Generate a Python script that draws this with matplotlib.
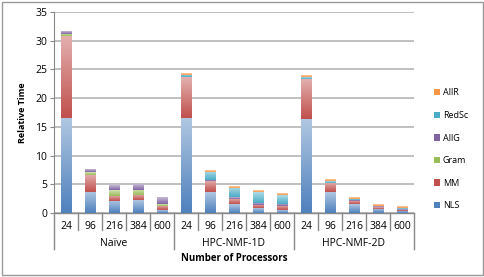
import numpy as np
import matplotlib
matplotlib.use("Agg")
import matplotlib.pyplot as plt
from matplotlib.patches import Rectangle
from matplotlib.colors import LinearSegmentedColormap, to_rgb

plt.rcParams['font.family'] = ['Open Sans', 'DejaVu Sans']

groups = ["Naïve", "HPC-NMF-1D", "HPC-NMF-2D"]
procs = ["24", "96", "216", "384", "600"]

series = ["NLS", "MM", "Gram", "AllG", "RedSc", "AllR"]
NLS   = [16.5, 3.7, 2.1, 2.2, 0.5,   16.5, 3.6, 1.5, 0.8, 0.5,   16.3, 3.6, 1.5, 0.7, 0.4]
MM    = [14.3, 3.0, 0.9, 0.9, 0.7,    7.1, 2.0, 1.0, 0.6, 0.7,    7.0, 1.6, 0.6, 0.3, 0.2]
Gram  = [0.4, 0.4, 1.0, 0.9, 0.3,     0.0, 0.0, 0.0, 0.0, 0.0,    0.0, 0.0, 0.0, 0.0, 0.0]
AllG  = [0.4, 0.5, 0.7, 1.0, 1.2,     0.1, 0.2, 0.3, 0.4, 0.4,    0.1, 0.1, 0.2, 0.15, 0.1]
RedSc = [0.0, 0.0, 0.0, 0.0, 0.0,     0.4, 1.4, 1.6, 1.8, 1.5,    0.2, 0.2, 0.2, 0.15, 0.1]
AllR  = [0.0, 0.0, 0.0, 0.0, 0.0,     0.2, 0.2, 0.2, 0.2, 0.2,    0.2, 0.2, 0.2, 0.2, 0.2]
values = [NLS, MM, Gram, AllG, RedSc, AllR]
colors = ["#4F81BD", "#C0504D", "#9BBB59", "#8064A2", "#4BACC6", "#F79646"]


def lighten(c, f):
    r = np.array(to_rgb(c))
    return tuple(r + (1 - r) * f)


fig = plt.figure(figsize=(4.85, 2.77), dpi=100)
ax = fig.add_axes([0.1113, 0.231, 0.7423, 0.7257])

x = np.arange(len(NLS))
bottom = np.zeros(len(NLS))
handles = []
for name, vals, col in zip(series, values, colors):
    vals = np.array(vals)
    bars = ax.bar(x, vals, 0.42, bottom=bottom, color=col, edgecolor="none",
                  label=name, zorder=2)
    # vertical gradient inside each segment, darker at the bottom
    cmap = LinearSegmentedColormap.from_list(name, [col, lighten(col, 0.55)])
    grad = np.linspace(0, 1, 64).reshape(-1, 1)
    for b in bars:
        if b.get_height() <= 0:
            continue
        x0, y0 = b.get_x(), b.get_y()
        w, h = b.get_width(), b.get_height()
        ax.imshow(grad, cmap=cmap, aspect="auto", origin="lower",
                  extent=(x0, x0 + w, y0, y0 + h), zorder=2.1,
                  interpolation="bilinear")
    handles.append(bars)
    bottom += vals

ax.set_xlim(-0.5, len(NLS) - 0.5)
ax.set_ylim(0, 35)
ax.set_yticks(range(0, 36, 5))
ax.yaxis.grid(True, color="#BBBBBB", linewidth=1.3, zorder=0)
ax.set_axisbelow(True)
ax.tick_params(axis="y", labelsize=7.5, length=3, color="#888888", pad=2)
ax.tick_params(axis="x", length=0, labelbottom=False)
for s in ["top", "right", "bottom"]:
    ax.spines[s].set_visible(False)
ax.spines["left"].set_color("#888888")
ax.set_ylabel("Relative Time", fontsize=6.5, fontweight="bold", labelpad=6)

# multi-level category axis
trans = ax.get_xaxis_transform()
ax.plot([-0.5, len(NLS) - 0.5], [0, 0], color="#888888", lw=1, transform=trans,
        clip_on=False)
for i in range(len(NLS)):
    ax.text(i, -0.065, procs[i % 5], ha="center", va="center", fontsize=7.5,
            transform=trans)
for i in range(len(NLS) + 1):
    major = i % 5 == 0
    ax.plot([i - 0.5, i - 0.5], [0, -0.18 if major else -0.085], color="#888888",
            lw=1, transform=trans, clip_on=False)
for g, name in enumerate(groups):
    ax.text(g * 5 + 2, -0.15, name, ha="center", va="center", fontsize=7.5,
            transform=trans)
ax.text(7, -0.228, "Number of Processors", ha="center", va="center", fontsize=7,
        fontweight="bold", transform=trans)

leg = fig.legend(handles[::-1], series[::-1], loc="upper left",
                 bbox_to_anchor=(0.885, 0.697), frameon=False, fontsize=6.5,
                 handlelength=0.7, handleheight=0.7, handletextpad=0.3,
                 labelspacing=1.5, borderpad=0)

fig.patches.append(Rectangle((0.004, 0.006), 0.992, 0.988, transform=fig.transFigure,
                             fill=False, edgecolor="#999999", lw=1))

fig.savefig("out.png", dpi=100)
